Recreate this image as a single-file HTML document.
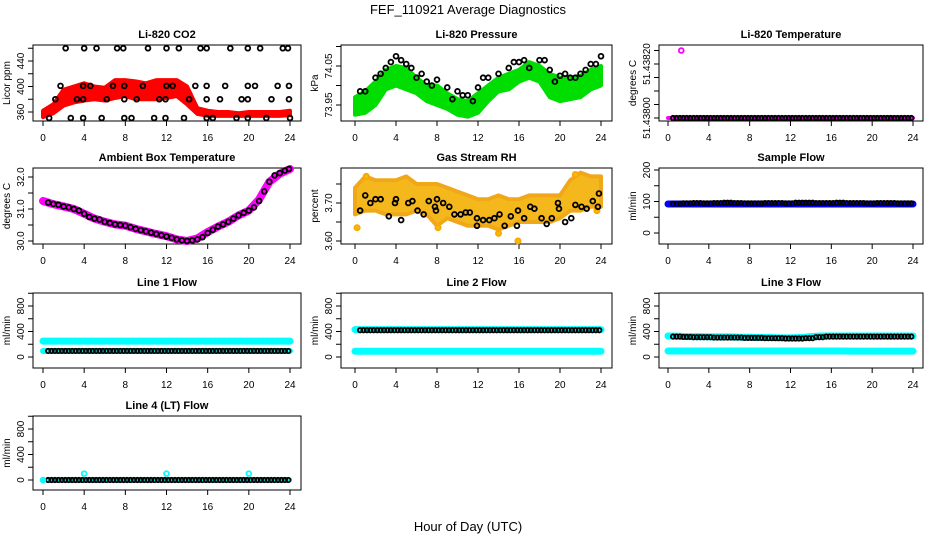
<!DOCTYPE html>
<html><head><meta charset="utf-8"><style>
html,body{margin:0;padding:0;background:#fff;}
svg{display:block;font-family:"Liberation Sans",Arial,sans-serif;}
</style></head><body>
<svg id="chart" width="936" height="540" viewBox="0 0 936 540" xmlns="http://www.w3.org/2000/svg">
<rect width="936" height="540" fill="#fff"/>
<text x="468" y="14" text-anchor="middle" font-size="13">FEF_110921  Average Diagnostics</text>
<text x="468" y="531" text-anchor="middle" font-size="13">Hour of Day (UTC)</text>
</svg>
<script>
const hours = [0,1,2,3,4,5,6,7,8,9,10,11,12,13,14,15,16,17,18,19,20,21,22,23,24];
const xTicks = [0,4,8,12,16,20,24];
// CO2
const co2Upper = [362,372,395,400,405,400,398,410,410,408,405,410,410,410,400,366,362,360,360,358,360,360,360,360,362];
const co2Lower = [352,358,370,375,378,380,378,382,385,380,380,380,382,385,372,357,354,354,354,354,354,354,354,354,355];
const co2Hi = [2.2,4.0,5.2,7.2,7.8,10.2,12.0,13.2,15.3,15.9,18.2,19.9,21.1,23.3,23.8];
const co2Mid1 = [1.7,3.9,4.6,6.8,7.9,9.7,12.0,12.6,14.8,15.9,17.7,19.9,20.6,22.8,23.9];
const co2Mid2 = [1.2,3.3,3.9,6.2,7.9,9.1,11.3,11.9,14.2,15.9,17.2,19.3,19.9,22.2,23.9];
const co2Lo = [0.6,2.7,3.9,5.7,7.9,8.6,10.8,11.9,13.7,15.9,16.5,18.8,19.9,21.7,24];
const co2Levels = [460,401,380,350.6];
// Pressure
const presUpper = [73.97,73.985,74.01,74.04,74.05,74.045,74.02,74.0,74.0,73.98,73.965,73.96,73.98,74.0,74.02,74.03,74.04,74.06,74.05,74.03,74.02,74.02,74.025,74.04,74.05];
const presLower = [73.925,73.93,73.95,73.99,74.0,73.99,73.98,73.96,73.95,73.94,73.925,73.92,73.93,73.96,73.985,73.99,74.01,74.02,74.01,73.97,73.96,73.965,73.97,73.99,74.0];
const presPtHours = [0.5,1,2,2.5,3,3.5,4,4.5,5,5.5,6,6.5,7,7.5,8,9,9.5,10,10.5,11,11.5,12,12.5,13,14,15,15.5,16,16.5,17,18,18.5,19,19.5,20,20.5,21,21.5,22,22.5,23,23.5,24];
const presPtVals = [73.985,73.985,74.02,74.03,74.045,74.06,74.075,74.065,74.055,74.045,74.02,74.03,74.01,74.0,74.015,73.995,73.965,73.985,73.975,73.975,73.96,73.995,74.02,74.02,74.03,74.045,74.06,74.06,74.065,74.045,74.065,74.065,74.04,74.01,74.025,74.03,74.02,74.02,74.03,74.04,74.055,74.055,74.075];
// Li-820 temperature
const tempHourly = [51.438,51.438,51.438,51.438,51.438,51.438,51.438,51.438,51.438,51.438,51.438,51.438,51.438,51.438,51.438,51.438,51.438,51.438,51.438,51.438,51.438,51.438,51.438,51.438];
const tempOutlier = [1.3, 51.43825];
// Ambient box temperature
const ambVals = [31.25,31.15,31.08,31.0,30.85,30.7,30.6,30.52,30.48,30.38,30.3,30.22,30.15,30.05,30.0,30.08,30.28,30.45,30.6,30.8,30.95,31.3,31.85,32.1,32.25];
const ambPtHours = [0.5,1,1.5,2,2.5,3,3.5,4,4.5,5,5.5,6,6.5,7,7.5,8,8.5,9,9.5,10,10.5,11,11.5,12,12.5,13,13.5,14,14.5,15,15.5,16,16.5,17,17.5,18,18.5,19,19.5,20,20.5,21,21.5,22,22.5,23,23.5,23.9];
const ambPtVals = [31.2,31.16,31.13,31.08,31.05,31.0,30.95,30.85,30.75,30.7,30.67,30.6,30.56,30.52,30.5,30.48,30.43,30.38,30.34,30.3,30.26,30.22,30.18,30.14,30.1,30.05,30.02,30.0,30.02,30.05,30.12,30.25,30.35,30.45,30.52,30.6,30.7,30.8,30.88,30.95,31.05,31.25,31.55,31.85,32.05,32.12,32.2,32.25];
// Gas stream RH
const rhUpper = [3.74,3.77,3.76,3.76,3.76,3.77,3.75,3.75,3.75,3.74,3.73,3.72,3.71,3.71,3.72,3.71,3.71,3.72,3.72,3.72,3.72,3.76,3.78,3.77,3.77];
const rhLower = [3.67,3.68,3.68,3.67,3.67,3.67,3.68,3.67,3.64,3.66,3.65,3.64,3.64,3.64,3.63,3.64,3.65,3.65,3.65,3.65,3.66,3.68,3.68,3.69,3.69];
const rhPtHours = [0.5,1,1.5,2,2.5,3.3,3.9,4,4.5,5.2,5.6,6.1,6.7,7.2,7.8,7.9,8,8.6,9.2,9.7,10.3,10.8,11.2,11.9,11.9,12.5,13.1,13.6,14.1,14.6,15.2,15.9,15.8,16.5,17.1,17.5,18.2,18.7,19.2,19.8,19.9,20.5,21.1,21.5,22.1,22.6,23.2,23.7,23.8];
const rhPtVals = [3.68,3.72,3.70,3.71,3.71,3.665,3.70,3.71,3.655,3.70,3.705,3.68,3.67,3.705,3.69,3.68,3.71,3.70,3.69,3.67,3.67,3.675,3.675,3.66,3.64,3.655,3.655,3.66,3.67,3.64,3.665,3.68,3.64,3.66,3.69,3.685,3.66,3.645,3.66,3.70,3.685,3.65,3.66,3.695,3.69,3.685,3.705,3.69,3.725];
const rhOutHours = [0.2,1.1,8.1,14.0,15.9,21.5,23.6];
const rhOutVals = [3.635,3.77,3.635,3.62,3.60,3.775,3.68];
// Flows (hourly)
const sampleFlow = [93,94,95,94,95,96,95,94,94,95,95,94,96,96,95,95,96,95,95,94,95,95,94,94];
const sampleBand = [92,92,92,92,92,92,92,92,92,92,92,92,92,92,92,92,92,92,92,92,92,92,92,92,92];
const line1Black = [95,95,95,95,95,95,95,95,95,95,95,95,95,95,95,95,95,95,95,95,95,95,95,95];
const line1Cyan = [250,250,250,250,250,250,250,250,250,250,250,250,250,250,250,250,250,250,250,250,250,250,250,250,250];
const line1Low = [95,95,95,95,95,95,95,95,95,95,95,95,95,95,95,95,95,95,95,95,95,95,95,95,95];
const line2Black = [420,420,420,420,420,420,420,420,420,420,420,420,420,420,420,420,420,420,420,420,420,420,420,420];
const line2Cyan = [430,430,430,430,430,430,430,430,430,430,430,430,430,430,430,430,430,430,430,430,430,430,430,430,430];
const line2Low = [90,90,90,90,90,90,90,90,90,90,90,90,90,90,90,90,90,90,90,90,90,90,90,90,90];
const line3Black = [320,315,310,310,305,305,305,300,300,295,295,290,290,295,310,320,320,320,320,320,320,320,320,320];
const line3Cyan = [330,325,320,320,315,315,315,310,310,305,305,300,300,305,320,330,330,330,330,330,330,330,330,330,330];
const line3Low = [95,95,95,95,95,95,95,95,95,95,95,95,95,95,95,95,95,95,92,92,92,92,92,92,92];
const line4Black = [0,0,0,0,0,0,0,0,0,0,0,0,0,0,0,0,0,0,0,0,0,0,0,0];
const line4OutHours = [0,4,12,20];
const line4OutVals = [0,100,100,100];

const svg = document.getElementById('chart');
const NS = 'http://www.w3.org/2000/svg';
function mk(tag, attrs, parent){const e=document.createElementNS(NS,tag);for(const k in attrs)e.setAttribute(k,attrs[k]);(parent||svg).appendChild(e);return e;}

const cols=[{l:33,r:301,x0:43,x1:290},{l:341,r:612,x0:355,x1:601},{l:659,r:923,x0:668,x1:913}];
const rows=[{t:45,b:121},{t:168,b:244},{t:293,b:368},{t:416,b:490}];

function makePanel(ci,ri,name,title,ylab,v0,p0,v1,p1,yt,yl,fmt){
  const c=cols[ci],r=rows[ri];
  const g=mk('g',{});
  
  
  const sx=h=>c.x0+(c.x1-c.x0)*h/24;
  const sy=v=>p0+(v-v0)*(p1-p0)/(v1-v0);
  const t=mk('text',{x:(c.l+c.r)/2,y:r.t-7,'text-anchor':'middle','font-size':11,'font-weight':'bold'},g);
  t.textContent=title;
  
  
  const box=mk('rect',{x:c.l,y:r.t,width:c.r-c.l,height:r.b-r.t,fill:'none',stroke:'#000','stroke-width':1},g);
  
  
  const xa=mk('g',{},g);
  
  
  mk('line',{x1:sx(0),x2:sx(24),y1:r.b,y2:r.b,stroke:'#000'},xa);
  xTicks.forEach(h=>{mk('line',{x1:sx(h),x2:sx(h),y1:r.b,y2:r.b+5,stroke:'#000'},xa);
    const tx=mk('text',{x:sx(h),y:r.b+20,'text-anchor':'middle','font-size':10},xa);tx.textContent=h;});
  const ya=mk('g',{},g);
  
  
  mk('line',{x1:c.l,x2:c.l,y1:sy(yt[0]),y2:sy(yt[yt.length-1]),stroke:'#000'},ya);
  yt.forEach(v=>mk('line',{x1:c.l-5,x2:c.l,y1:sy(v),y2:sy(v),stroke:'#000'},ya));
  yl.forEach(v=>{const yy=sy(v);const tx=mk('text',{x:0,y:0,'text-anchor':'middle','font-size':10,transform:`translate(${c.l-9},${yy}) rotate(-90)`},ya);tx.textContent=fmt(v);});
  const lb=mk('text',{x:0,y:0,'text-anchor':'middle','font-size':10,transform:`translate(${c.l-23},${(r.t+r.b)/2}) rotate(-90)`},g);
  lb.textContent=ylab;
  
  
  const clip='clip'+ci+ri;
  const cp=mk('clipPath',{id:clip},g);mk('rect',{x:c.l,y:r.t-3,width:c.r-c.l,height:r.b-r.t+6},cp);
  const d=mk('g',{'clip-path':`url(#${clip})`},g);
  
  
  return {g:d,sx,sy};
}
function band(P,hs,up,lo,fill,stroke,sw,nm){
  let pts=hs.map((h,i)=>P.sx(h)+','+P.sy(up[i]));
  for(let i=hs.length-1;i>=0;i--)pts.push(P.sx(hs[i])+','+P.sy(lo[i]));
  const p=mk('polygon',{points:pts.join(' '),fill:fill,stroke:stroke,'stroke-width':sw,'stroke-linejoin':'round'},P.g);
  
  
}
function line(P,hs,vals,color,sw,nm){
  const p=mk('polyline',{points:hs.map((h,i)=>P.sx(h)+','+P.sy(vals[i])).join(' '),fill:'none',stroke:color,'stroke-width':sw,'stroke-linecap':'round','stroke-linejoin':'round'},P.g);
  
  
}
function pts(P,hs,vals,color,nm,rad,fill){
  hs.forEach((h,i)=>{const c=mk('circle',{cx:P.sx(h),cy:P.sy(vals[i]),r:rad||2.4,fill:fill||'none',stroke:color,'stroke-width':1.8},P.g);
    
    });
}
function hourlyPts(P,vals,color,nm){
  vals.forEach((v,hr)=>{for(let k=0;k<3;k++){const h=hr+0.5+k/3;if(h>24)continue;
    const c=mk('circle',{cx:P.sx(h),cy:P.sy(v),r:2.2,fill:'none',stroke:color,'stroke-width':1.8},P.g);
    
    }});
}
const f0=v=>String(v), f1=v=>v.toFixed(1), f2=v=>v.toFixed(2), f5=v=>v.toFixed(5);
const flowTicks=[0,200,400,600,800,1000], flowLabels=[0,400,800];

let P=makePanel(0,0,'co2-panel','Li-820 CO2','Licor ppm',360,112,440,61,[360,380,400,420,440,460],[360,400,440],f0);
band(P,hours,co2Upper,co2Lower,'#ff0000','#ff0000',4,'co2-red-cloud');
[co2Hi,co2Mid1,co2Mid2,co2Lo].forEach((hs,j)=>pts(P,hs,hs.map(()=>co2Levels[j]),'#000','co2-point'));

P=makePanel(1,0,'pressure-panel','Li-820 Pressure','kPa',73.95,105,74.05,66,[73.95,74.0,74.05,74.1],[73.95,74.05],f2);
band(P,hours,presUpper,presLower,'#00dd00','#00dd00',4,'pressure-green-cloud');
pts(P,presPtHours,presPtVals,'#000','pressure-point');

P=makePanel(2,0,'li820-temp-panel','Li-820 Temperature','degrees C',51.438,118,51.4382,64,[51.438,51.43805,51.4381,51.43815,51.4382,51.43825],[51.438,51.4382],f5);
line(P,[0,24],[tempHourly[0],tempHourly[23]],'#ff00ff',4,'temp-magenta-line');
hourlyPts(P,tempHourly,'#000','temp-point');
pts(P,[tempOutlier[0]],[tempOutlier[1]],'#ff00ff','temp-outlier');

P=makePanel(0,1,'ambient-temp-panel','Ambient Box Temperature','degrees C',30,241,32,177,[30,30.5,31,31.5,32],[30,31,32],f1);
line(P,hours,ambVals,'#ff00ff',8,'ambient-magenta-line');
pts(P,ambPtHours,ambPtVals,'#000','ambient-point');

P=makePanel(1,1,'rh-panel','Gas Stream RH','percent',3.6,241,3.7,203,[3.6,3.65,3.7,3.75],[3.6,3.7],f2);
band(P,hours,rhUpper,rhLower,'#f5b81c','#f0a818',4,'rh-orange-cloud');
pts(P,rhOutHours,rhOutVals,'#ffa500','rh-outlier',2.6,'#e8c010');
pts(P,rhPtHours,rhPtVals,'#000','rh-point');

P=makePanel(2,1,'sample-flow-panel','Sample Flow','ml/min',0,233,200,170,[0,50,100,150,200],[0,100,200],f0);
line(P,hours,sampleBand,'#0000ff',7,'sample-blue-line');
hourlyPts(P,sampleFlow,'#000','sample-point');

P=makePanel(0,2,'line1-flow-panel','Line 1 Flow','ml/min',0,357,800,306,flowTicks,flowLabels,f0);
line(P,hours,line1Cyan,'#00ffff',7,'line1-cyan-line');
line(P,hours,line1Low,'#00ffff',6,'line1-cyan-low');
hourlyPts(P,line1Black,'#000','line1-point');

P=makePanel(1,2,'line2-flow-panel','Line 2 Flow','ml/min',0,357,800,306,flowTicks,flowLabels,f0);
line(P,hours,line2Cyan,'#00ffff',7,'line2-cyan-line');
line(P,hours,line2Low,'#00ffff',7,'line2-cyan-low');
hourlyPts(P,line2Black,'#000','line2-point');

P=makePanel(2,2,'line3-flow-panel','Line 3 Flow','ml/min',0,357,800,306,flowTicks,flowLabels,f0);
line(P,hours,line3Cyan,'#00ffff',7,'line3-cyan-line');
line(P,hours,line3Low,'#00ffff',7,'line3-cyan-low');
hourlyPts(P,line3Black,'#000','line3-point');

P=makePanel(0,3,'line4-flow-panel','Line 4 (LT) Flow','ml/min',0,480,800,429,flowTicks,flowLabels,f0);
line(P,[0,24],[line4Black[0],line4Black[23]],'#00ffff',4,'line4-cyan-line');
hourlyPts(P,line4Black,'#000','line4-point');
pts(P,line4OutHours,line4OutVals,'#00ffff','line4-outlier');
</script>
</body></html>
